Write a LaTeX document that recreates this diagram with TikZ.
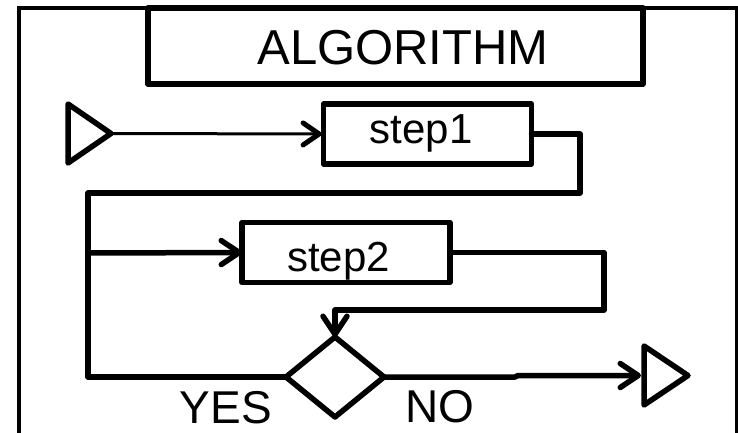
\documentclass[tikz,border=0pt]{standalone}
\usepackage{fontspec}
\setmainfont{Liberation Sans}
\usetikzlibrary{shapes.geometric,arrows.meta}
\begin{document}
\begin{tikzpicture}[x=1pt,y=-1pt,
  box/.style={draw,line width=5.5pt,line join=round,inner sep=0pt,outer sep=0pt},
  stepbox/.style={box,minimum width=208pt,minimum height=60pt},
  term/.style={draw,line width=5.5pt,line join=round},
  wire/.style={line width=5.5pt,line join=round,line cap=round},
  tip/.style={-{Straight Barb[length=18pt,width=24pt,line cap=round,line join=round]}},
  lbl/.style={inner sep=0pt,anchor=base}]
\useasboundingbox (0,0) rectangle (738,433);
% outer frame
\draw[line width=3.5pt] (19,436) -- (19,8) -- (737,8) -- (737,436);
% title
\node[box,minimum width=495pt,minimum height=76pt] (title) at (395.5,46) {};
\node[lbl,font=\fontsize{49pt}{55pt}\selectfont] (titletext) at (403,65) {ALGORITHM};
% start / end terminals
\coordinate (startTop) at (68,104);
\coordinate (startBot) at (68,163);
\coordinate (startTip) at (111,133.5);
\draw[term] (startTop) -- (startTip) -- (startBot) -- cycle;
\coordinate (endTop) at (644,346);
\coordinate (endBot) at (644,405);
\coordinate (endTip) at (688,375.5);
\coordinate (endIn) at (644,375.5);
\draw[term] (endTop) -- (endTip) -- (endBot) -- cycle;
% steps
\node[stepbox] (s1) at (427.5,134) {};
\node[lbl,font=\fontsize{42pt}{48pt}\selectfont] (s1t) at (421,143) {step1};
\node[stepbox] (s2) at (346,252.5) {};
\node[lbl,font=\fontsize{42pt}{48pt}\selectfont] (s2t) at (338.5,271) {step2};
% decision
\node[box,diamond,minimum width=98pt,minimum height=80pt,shape aspect=1.2] (dec) at (335,377) {};
% labels
\node[lbl,font=\fontsize{46pt}{52pt}\selectfont] (yes) at (226,423) {YES};
\node[lbl,font=\fontsize{46pt}{52pt}\selectfont] (no) at (439.5,422) {NO};
% connectors
\coordinate (c1) at (580,193);
\coordinate (c1b) at (88,193);
\coordinate (j) at (88,253);
\coordinate (c2) at (604,310);
\coordinate (k1) at (515,377);
\coordinate (k2) at (518,375.5);
\draw[line width=3pt,-{Straight Barb[length=16pt,width=22pt,line width=5pt,line cap=round]}] (startTip) -- (s1.west);
\draw[wire] (s1.east) -| (c1) -- (c1b) -- (j);
\draw[wire,tip] (j) -- (s2.west);
\draw[wire] (dec.west) -| (j);
\draw[wire,tip] (s2.east) -| (c2) -| (dec.north);
\draw[wire,tip,shorten >=3pt] (dec.east) -- (k1) -- (k2) -- (endIn);
\end{tikzpicture}
\end{document}
